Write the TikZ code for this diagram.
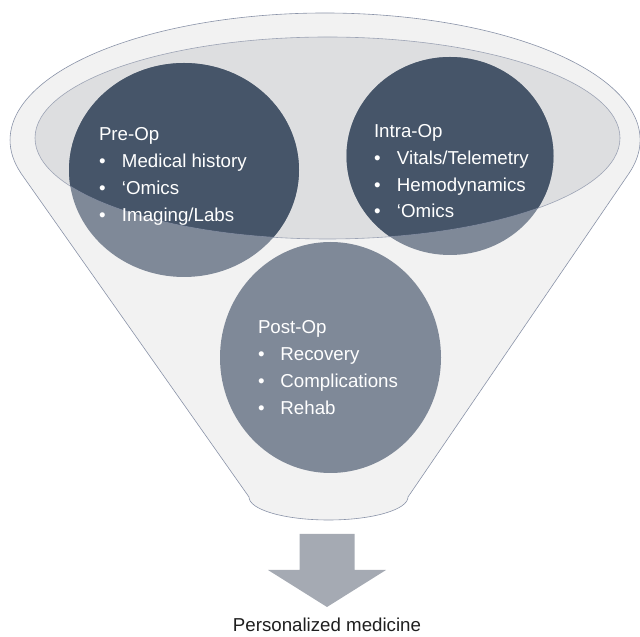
\documentclass[tikz,border=0pt]{standalone}
\usepackage{fontspec}
\setmainfont{Liberation Sans}
\definecolor{funnelfill}{HTML}{F2F2F2}
\definecolor{rimfill}{HTML}{DDDEE0}
\definecolor{edgec}{HTML}{8A93A8}
\definecolor{darkc}{HTML}{465569}
\definecolor{lightc}{HTML}{7F8998}
\definecolor{arrowc}{HTML}{A5AAB3}
\begin{document}
\begin{tikzpicture}[x=1pt,y=1pt,
  txt/.style={anchor=base west, inner sep=0pt, outer sep=0pt, text=white, font=\fontsize{18.7}{22}\selectfont},
  lab/.style={anchor=base, inner sep=0pt, outer sep=0pt, text=black!88, font=\fontsize{18.7}{22}\selectfont},
  outline/.style={draw=edgec, line width=0.6pt},
  bul/.style={},
]
\useasboundingbox (0,0) rectangle (640,637);
% funnel body
\coordinate (fl) at (20.7,464.1);
\coordinate (fr) at (629.3,464.1);
\coordinate (bl) at (249,140);
\path[fill=funnelfill, outline] (fl) -- (bl)
  arc[start angle=180, end angle=360, x radius=79.5, y radius=23]
  -- (fr)
  arc[start angle=-15, end angle=195, x radius=315, y radius=127] -- cycle;
% rim
\fill[rimfill] (327.5,499) ellipse[x radius=292.5, y radius=101];
% circles (outside rim)
\fill[lightc] (184,467) ellipse[x radius=115, y radius=107];
\fill[lightc] (450,481) ellipse[x radius=103.5, y radius=99];
\fill[lightc] (330.5,279.5) ellipse[x radius=110.5, y radius=115.5];
% circles (inside rim)
\begin{scope}
  \clip (327.5,499) ellipse[x radius=292.5, y radius=101];
  \fill[darkc] (184,467) ellipse[x radius=115, y radius=107];
  \fill[darkc] (450,481) ellipse[x radius=103.5, y radius=99];
\end{scope}
\draw[outline, draw opacity=0.8] (327.5,499) ellipse[x radius=292.5, y radius=101];
% Pre-Op
\node[txt] (pre0) at (99,496) {Pre-Op};
\node[txt] (pre1) at (99,469) {\makebox[23pt][l]{\textbullet}Medical history};
\node[txt] (pre2) at (99,442) {\makebox[23pt][l]{\textbullet}‘Omics};
\node[txt] (pre3) at (99,415) {\makebox[23pt][l]{\textbullet}Imaging/Labs};
% Intra-Op
\node[txt] (intra0) at (374,499) {Intra-Op};
\node[txt] (intra1) at (374,472) {\makebox[23pt][l]{\textbullet}Vitals/Telemetry};
\node[txt] (intra2) at (374,445) {\makebox[23pt][l]{\textbullet}Hemodynamics};
\node[txt] (intra3) at (374,419) {\makebox[23pt][l]{\textbullet}‘Omics};
% Post-Op
\node[txt] (post0) at (258,303) {Post-Op};
\node[txt] (post1) at (258,276) {\makebox[22.5pt][l]{\textbullet}Recovery};
\node[txt] (post2) at (258,249) {\makebox[22.5pt][l]{\textbullet}Complications};
\node[txt] (post3) at (258,222) {\makebox[22.5pt][l]{\textbullet}Rehab};
% arrow
\fill[arrowc] (299.5,103) -- (354.5,103) -- (354.5,67) -- (386,67) -- (327,30)
  -- (268,67) -- (299.5,67) -- cycle;
\node[lab] (pm) at (327,5) {Personalized medicine};
\end{tikzpicture}
\end{document}
